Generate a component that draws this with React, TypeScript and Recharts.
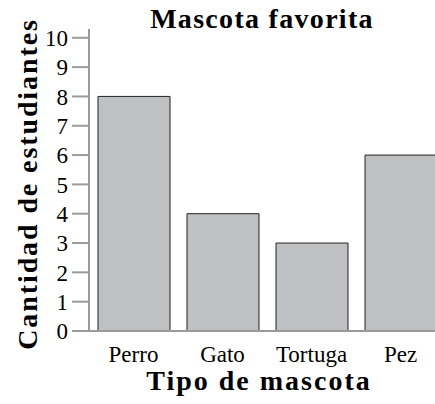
import React from 'react';
import { BarChart, Bar, XAxis, YAxis, Label } from 'recharts';

const PETS = ['Perro', 'Gato', 'Tortuga', 'Pez'];
const STUDENTS = [8, 4, 3, 6];
const Y_TICKS = [0, 1, 2, 3, 4, 5, 6, 7, 8, 9, 10];

const FONT = '"Liberation Serif", "Times New Roman", serif';
const AXIS_GRAY = '#9b9b9b';

const data = PETS.map((pet, i) => ({ pet, students: STUDENTS[i] }));

export default function App() {
  return (
    <div
      style={{
        position: 'absolute',
        left: 0,
        top: 0,
        width: 435,
        height: 404,
        overflow: 'hidden',
        background: '#fff',
        fontFamily: FONT,
      }}
    >
      <style>{`.recharts-wrapper text { font-family: ${FONT}; }`}</style>
      <div
        style={{
          position: 'absolute',
          left: 62,
          width: 400,
          top: 4,
          textAlign: 'center',
          fontSize: 28,
          fontWeight: 'bold',
          letterSpacing: 1.3,
          lineHeight: '30px',
          color: '#000',
        }}
      >
        Mascota favorita
      </div>
      <BarChart
        width={450}
        height={404}
        data={data}
        margin={{ top: 29, right: 5, bottom: 0, left: 0 }}
      >
        <XAxis
          dataKey="pet"
          height={73}
          tickLine={false}
          tickSize={0}
          tickMargin={15}
          axisLine={{ stroke: AXIS_GRAY, strokeWidth: 2 }}
          tick={{ fill: '#000', fontSize: 23, fontFamily: FONT }}
          interval={0}
        >
          <Label
            value="Tipo de mascota"
            position="insideBottom"
            offset={14}
            dx={-8}
            style={{
              fontSize: 28,
              fontWeight: 'bold',
              fontFamily: FONT,
              fill: '#000',
              letterSpacing: 2,
            }}
          />
        </XAxis>
        <YAxis
          width={89}
          domain={[0, 10.3]}
          ticks={Y_TICKS}
          interval={0}
          tickSize={17}
          tickMargin={4}
          axisLine={{ stroke: AXIS_GRAY, strokeWidth: 2 }}
          tickLine={{ stroke: AXIS_GRAY, strokeWidth: 2 }}
          tick={{ fill: '#000', fontSize: 23, fontFamily: FONT }}
        >
          <Label
            value="Cantidad de estudiantes"
            angle={-90}
            position="insideLeft"
            offset={27}
            dy={4}
            style={{
              textAnchor: 'middle',
              fontSize: 28,
              fontWeight: 'bold',
              fontFamily: FONT,
              fill: '#000',
              letterSpacing: 1.9,
            }}
          />
        </YAxis>
        <Bar
          dataKey="students"
          barSize={72}
          fill="#bfc0c2"
          stroke="#222"
          strokeWidth={1}
          isAnimationActive={false}
        />
      </BarChart>
    </div>
  );
}
